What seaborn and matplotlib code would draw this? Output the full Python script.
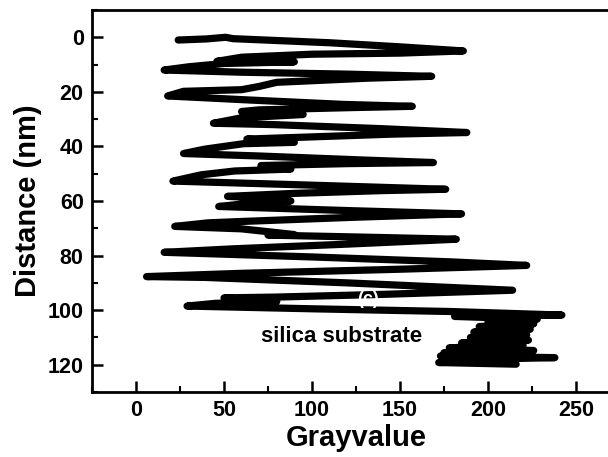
import matplotlib
matplotlib.use("Agg")
import matplotlib.pyplot as plt
from matplotlib.ticker import MultipleLocator
import seaborn as sns
import pandas as pd

# Gray-value line profile across the film (distance measured from the top surface)
distance_nm = [
    1.0, 0.6, 0.0, 0.5, 2.0, 3.5, 5.0, 5.8, 6.2, 7.3, 8.8, 9.0, 9.6, 10.8, 12.0,
    12.8, 13.5, 14.3, 15.0, 16.5, 18.0, 19.2, 19.8, 21.5,
    23.0, 24.6, 25.3, 25.8, 26.6, 27.2, 28.3, 29.5, 31.5,
    32.0, 33.5, 34.9, 35.5, 36.5, 37.3, 38.5, 39.0, 41.0, 42.6,
    43.5, 45.0, 45.9, 46.3, 47.0, 48.3, 49.0, 50.4, 52.7,
    54.0, 55.7, 56.2, 57.2, 58.3, 59.0, 60.0, 60.8, 62.0,
    63.5, 64.7, 66.0, 67.5, 68.0, 69.3, 70.2, 72.3, 72.5, 73.4, 74.0,
    75.8, 77.5, 78.8, 80.5, 82.3, 83.6, 85.0, 86.5, 87.7,
    88.0, 90.0, 92.7, 94.2, 95.2, 95.5, 96.8, 97.5, 98.5, 99.5, 100.5, 101.8,
    102.3, 103.3, 104.2, 105.0, 106.0, 107.0, 108.0, 109.0, 110.0, 111.0,
    112.0, 112.8, 113.8, 114.8, 115.6, 116.2, 116.8, 117.4, 118.2, 118.6,
    119.2, 119.8,
]
gray_value = [
    24, 40, 51, 55, 110, 150, 186, 150, 100, 60, 46, 90, 50, 30, 16,
    60, 120, 168, 131, 80, 70, 60, 27, 18,
    65, 118, 157, 120, 70, 60, 95, 60, 44,
    78, 140, 188, 145, 100, 63, 90, 61, 39, 27,
    70, 130, 169, 120, 71, 88, 56, 37, 21,
    90, 176, 139, 90, 52, 75, 88, 65, 47,
    120, 185, 122, 60, 41, 22, 60, 90, 75, 141, 182,
    120, 56, 16, 100, 179, 222, 150, 60, 6,
    39, 120, 214, 141, 80, 50, 80, 45, 29, 100, 179, 242,
    181, 228, 200, 226, 195, 224, 192, 222, 190, 223,
    185, 220, 178, 226, 175, 215, 173, 238, 180, 214,
    172, 216,
]

x_ticks = [0, 50, 100, 150, 200, 250]
y_ticks = [0, 20, 40, 60, 80, 100, 120]

profile = pd.DataFrame({"Grayvalue": gray_value, "Distance": distance_nm})

sns.set_style("ticks", {"axes.edgecolor": "black", "text.color": "black",
                        "xtick.color": "black", "ytick.color": "black",
                        "axes.labelcolor": "black"})
plt.rcParams["font.family"] = ["Liberation Sans", "DejaVu Sans"]
plt.rcParams["font.weight"] = "bold"

fig = plt.figure(figsize=(6.08, 4.57), dpi=100)
ax = fig.add_axes([0.1513, 0.1422, 0.8684, 0.8359])

sns.lineplot(
    data=profile, x="Grayvalue", y="Distance",
    sort=False, estimator=None, color="black", linewidth=5.2, ax=ax,
)
for ln in ax.lines:
    ln.set_solid_capstyle("round")
    ln.set_solid_joinstyle("round")

ax.set_xlim(-25, 275)
ax.set_ylim(130, -10)
ax.set_xticks(x_ticks)
ax.set_yticks(y_ticks)
ax.xaxis.set_minor_locator(MultipleLocator(25))
ax.yaxis.set_minor_locator(MultipleLocator(10))
ax.tick_params(which="major", direction="in", length=8, width=1.8,
               labelsize=15.5, pad=6, top=False, right=False, colors="black")
ax.tick_params(which="minor", direction="in", length=4.5, width=1.5,
               top=False, right=False, colors="black")
for lbl in ax.get_xticklabels() + ax.get_yticklabels():
    lbl.set_fontweight("bold")
for sp in ax.spines.values():
    sp.set_linewidth(2.0)
    sp.set_color("black")
    sp.set_visible(True)

ax.set_xlabel("Grayvalue", fontsize=21, fontweight="bold", labelpad=2, color="black")
ax.set_ylabel("Distance (nm)", fontsize=21, fontweight="bold", labelpad=4, color="black")

ax.text(117, 109.5, "silica substrate", fontsize=16, fontweight="bold",
        ha="center", va="center", color="black")
ax.text(132, 96, "(c)", fontsize=13, fontweight="bold",
        ha="center", va="center", color="white")

fig.savefig("out.png", dpi=100)
